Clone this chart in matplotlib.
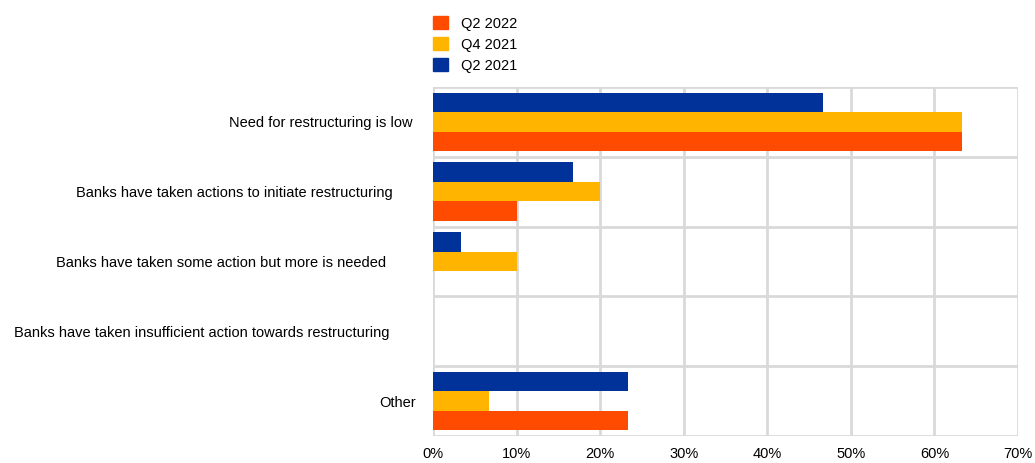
import numpy as np
import matplotlib.pyplot as plt
import matplotlib.transforms as mtransforms
from matplotlib.patches import Patch

plt.rcParams['font.family'] = ['Liberation Sans', 'DejaVu Sans']

categories = [
    "Need for restructuring is low",
    "Banks have taken actions to initiate restructuring",
    "Banks have taken some action but more is needed",
    "Banks have taken insufficient action towards restructuring",
    "Other",
]
series_names = ["Q2 2022", "Q4 2021", "Q2 2021"]
q2_2022 = [63.3, 10.0, 0.0, 0.0, 23.3]
q4_2021 = [63.3, 20.0, 10.0, 0.0, 6.7]
q2_2021 = [46.7, 16.7, 3.3, 0.0, 23.3]
colors = ["#ff4b00", "#ffb400", "#003299"]
x_ticks = [0, 10, 20, 30, 40, 50, 60, 70]

fig = plt.figure(figsize=(10.35, 4.63), dpi=100)
ax = fig.add_axes([433 / 1035, 27 / 463, 585 / 1035, 349 / 463])

n = len(categories)
pos = np.arange(n)
h = 0.28
# orange lowest, blue on top within each group
for k, (vals, col) in enumerate(zip([q2_2022, q4_2021, q2_2021], colors)):
    ax.barh(pos + (1 - k) * h, vals, height=h, color=col, zorder=3)

ax.set_ylim(n - 0.5, -0.5)
ax.set_xlim(0, 70)
ax.set_xticks(x_ticks)
ax.set_xticklabels([f"{t}%" for t in x_ticks], fontsize=10.5)
ax.set_yticks(pos)
ax.set_yticklabels(categories, fontsize=10.5)
ax.tick_params(length=0, pad=0)
ax.tick_params(axis='x', pad=8)

# the category labels sit at slightly different distances from the axis
label_gap = [20, 40, 47, 44, 17]
for lab, g in zip(ax.get_yticklabels(), label_gap):
    lab.set_transform(lab.get_transform() + mtransforms.ScaledTranslation(-g / 100, 0, fig.dpi_scale_trans))

# grid: vertical lines at ticks, horizontal lines between categories
for t in x_ticks:
    ax.axvline(t, color="#d9d9d9", lw=2, zorder=1)
for b in np.arange(n + 1) - 0.5:
    ax.axhline(b, color="#d9d9d9", lw=2, zorder=1)
for s in ax.spines.values():
    s.set_visible(False)

handles = [Patch(color=c) for c in colors]
fig.legend(handles, series_names, loc="upper left", bbox_to_anchor=(420 / 1035, 1 - 3 / 463),
           frameon=False, fontsize=10.5, handlelength=1.0, handleheight=1.0,
           handletextpad=0.9, labelspacing=0.45)

fig.savefig("out.png", dpi=100)
